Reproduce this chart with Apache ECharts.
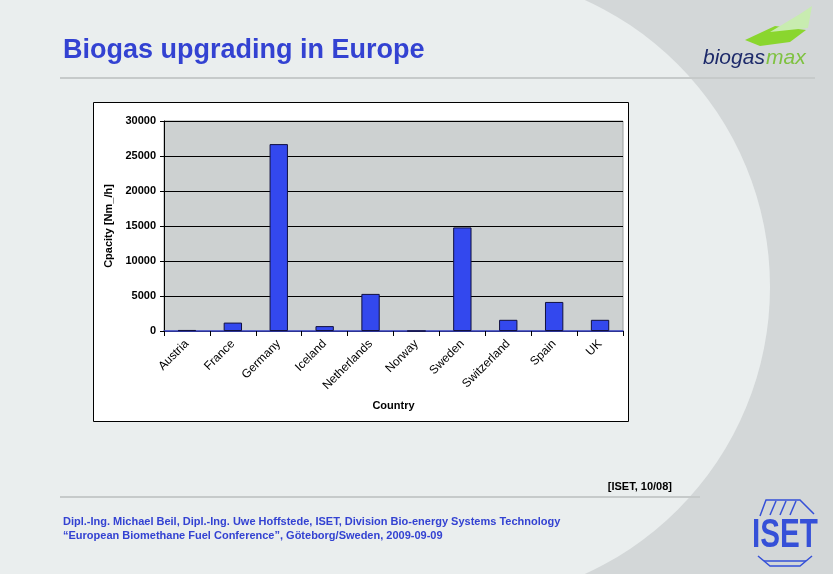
<!DOCTYPE html>
<html><head><meta charset="utf-8">
<script src="https://cdn.jsdelivr.net/npm/echarts@6/dist/echarts.min.js"></script>
<style>html,body{margin:0;padding:0;background:#eaeeee}#c{width:833px;height:574px}</style>
</head><body><div id="c"></div>
<script>
const categories = ['Austria','France','Germany','Iceland','Netherlands','Norway','Sweden','Switzerland','Spain','UK'];
const capacity = [150, 1200, 26700, 700, 5300, 0, 14800, 1600, 4150, 1600];
const yMin = 0, yMax = 30000, yStep = 5000;
const titleText = 'Biogas upgrading in Europe';
const yAxisName = 'Cpacity [Nm_/h]';
const xAxisName = 'Country';
const sourceText = '[ISET, 10/08]';
const footer1 = 'Dipl.-Ing. Michael Beil, Dipl.-Ing. Uwe Hoffstede, ISET, Division Bio-energy Systems Technology';
const footer2 = '\u201cEuropean Biomethane Fuel Conference\u201d, G\u00f6teborg/Sweden, 2009-09-09';

const chart = echarts.init(document.getElementById('c'), null, {renderer: 'canvas'});
const FF = '"Liberation Sans", Arial, sans-serif';
chart.setOption({
  backgroundColor: '#eaeeee',
  animation: false,
  graphic: [
    {type: 'rect', z: -20, shape: {x: 455, y: 0, width: 378, height: 574}, style: {fill: '#d3d7d8'}},
    {type: 'circle', z: -19, shape: {cx: 455, cy: 287, r: 315}, style: {fill: '#eaeeee'}},
    {type: 'rect', z: -18, shape: {x: 0, y: 0, width: 455, height: 574}, style: {fill: '#eaeeee'}},
    {type: 'line', z: -17, shape: {x1: 60, y1: 78, x2: 815, y2: 78}, style: {stroke: '#c6caca', lineWidth: 2}},
    {type: 'line', z: -17, shape: {x1: 60, y1: 497, x2: 700, y2: 497}, style: {stroke: '#c6caca', lineWidth: 2}},
    {type: 'text', z: -16, style: {x: 63, y: 37, text: titleText, fill: '#3342d2', font: 'bold 27px ' + FF}},
    {type: 'rect', z: -15, shape: {x: 93.5, y: 102.5, width: 535, height: 319}, style: {fill: '#ffffff', stroke: '#000000', lineWidth: 1}},
    {type: 'text', z: 5, style: {x: 672, y: 481, text: sourceText, fill: '#000000', font: 'bold 11px ' + FF, textAlign: 'right'}},
    {type: 'text', z: 5, style: {x: 63, y: 516, text: footer1, fill: '#3342d2', font: 'bold 11px ' + FF}},
    {type: 'text', z: 5, style: {x: 63, y: 530, text: footer2, fill: '#3342d2', font: 'bold 11px ' + FF}},
    // biogasmax logo
    {type: 'polygon', z: 5, shape: {points: [[745,40],[775,26],[806,30],[790,42],[760,46]]}, style: {fill: '#8ad62e'}},
    {type: 'polygon', z: 5, shape: {points: [[770,32],[800,14],[812,6],[808,28]]}, style: {fill: '#c8ecb0'}},
    {type: 'text', z: 5, style: {x: 703, y: 48, text: 'biogas', fill: '#1d2a6a', font: 'italic 21px ' + FF}},
    {type: 'text', z: 5, style: {x: 766, y: 48, text: 'max', fill: '#7fc241', font: 'italic 21px ' + FF}},
    // ISET logo
    {type: 'text', z: 5, x: 752, y: 516, scaleX: 0.74, style: {x: 0, y: 0, text: 'ISET', fill: '#3550d8', font: 'bold 40px ' + FF}},
    {type: 'polyline', z: 5, shape: {points: [[760,516],[766,500],[800,500],[814,514]]}, style: {stroke: '#3550d8', lineWidth: 1.5, fill: null}},
    {type: 'line', z: 5, shape: {x1: 770, y1: 515, x2: 776, y2: 501}, style: {stroke: '#3550d8', lineWidth: 1.5}},
    {type: 'line', z: 5, shape: {x1: 780, y1: 515, x2: 786, y2: 501}, style: {stroke: '#3550d8', lineWidth: 1.5}},
    {type: 'line', z: 5, shape: {x1: 790, y1: 515, x2: 796, y2: 501}, style: {stroke: '#3550d8', lineWidth: 1.5}},
    {type: 'polyline', z: 5, shape: {points: [[758,556],[770,566],[800,566],[812,556]]}, style: {stroke: '#3550d8', lineWidth: 1.5, fill: null}},
    {type: 'line', z: 5, shape: {x1: 764, y1: 561, x2: 806, y2: 561}, style: {stroke: '#3550d8', lineWidth: 1.5}}
  ],
  grid: {left: 164, right: 210, top: 121, bottom: 243, show: true, backgroundColor: '#cdd1d1', borderColor: '#9a9e9e', borderWidth: 1},
  xAxis: {
    type: 'category', data: categories, boundaryGap: true,
    name: xAxisName, nameLocation: 'middle', nameGap: 69,
    nameTextStyle: {fontFamily: FF, fontSize: 11, fontWeight: 'bold', color: '#000'},
    axisLine: {lineStyle: {color: '#3a44c8', width: 1.5}},
    axisTick: {show: true, alignWithLabel: false, length: 5, lineStyle: {color: '#000'}},
    axisLabel: {rotate: 45, fontFamily: FF, fontSize: 12, color: '#000', margin: 11, interval: 0}
  },
  yAxis: {
    type: 'value', min: yMin, max: yMax, interval: yStep,
    name: yAxisName, nameLocation: 'middle', nameGap: 46,
    nameTextStyle: {fontFamily: FF, fontSize: 11, fontWeight: 'bold', color: '#000'},
    axisLine: {show: true, lineStyle: {color: '#000'}},
    axisTick: {show: true, length: 4, lineStyle: {color: '#000'}},
    axisLabel: {fontFamily: FF, fontSize: 11, fontWeight: 'bold', color: '#000', margin: 8, formatter: v => String(v)},
    splitLine: {show: true, lineStyle: {color: '#000', width: 1}}
  },
  series: [{
    type: 'bar', data: capacity, barWidth: '40%',
    itemStyle: {color: '#3348ee', borderColor: '#101040', borderWidth: 1}
  }]
});
</script></body></html>
